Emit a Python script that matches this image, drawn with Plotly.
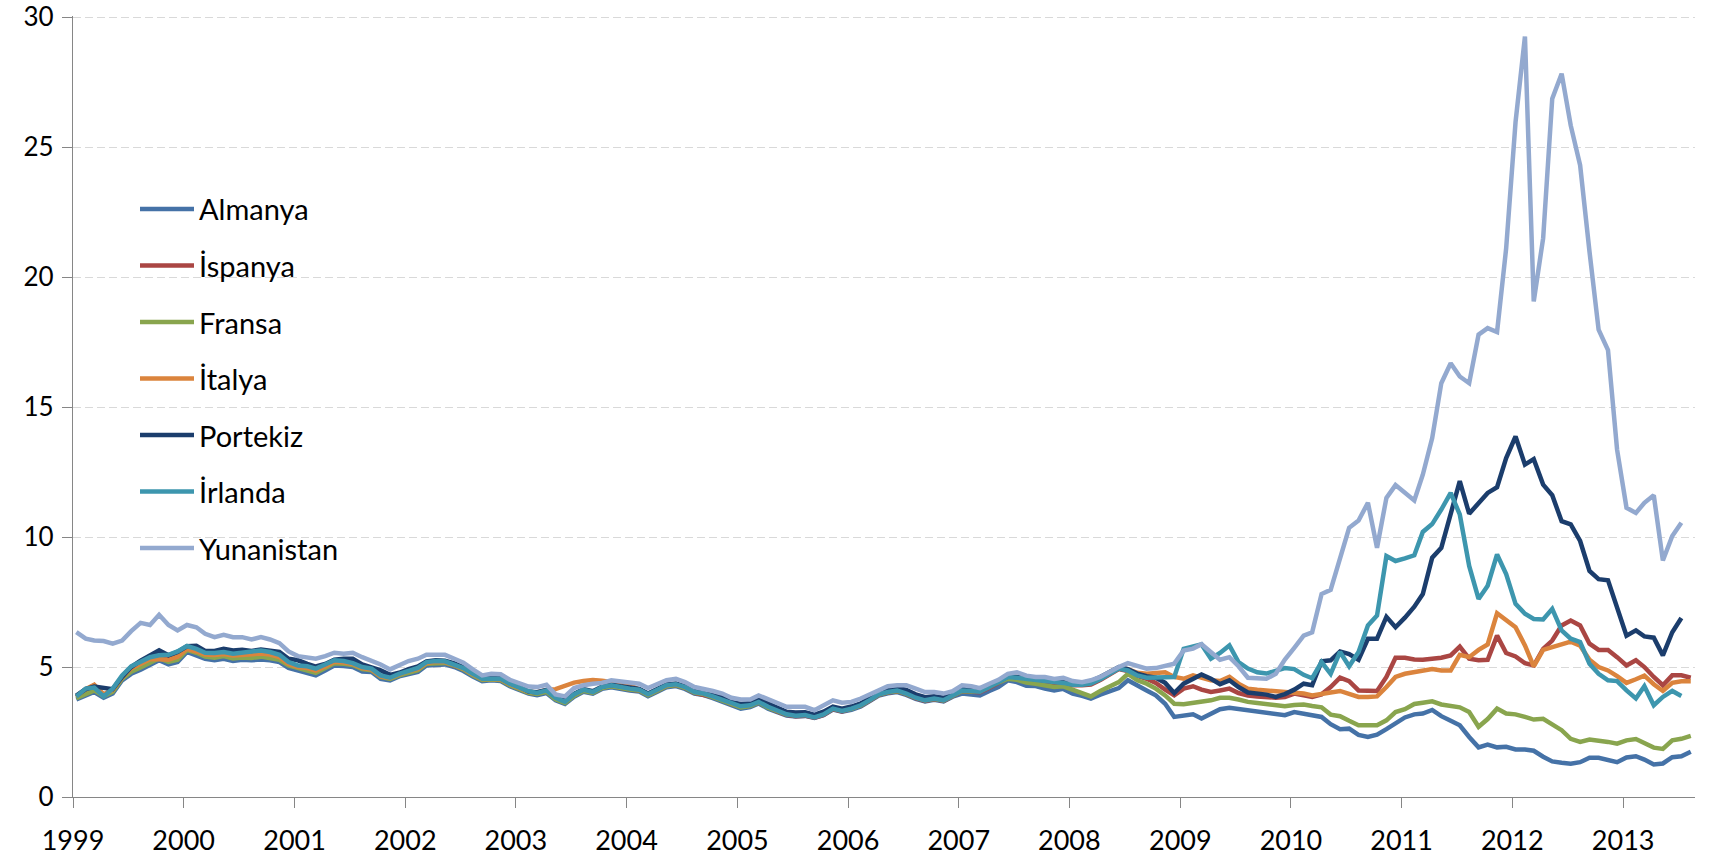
import pandas as pd
import plotly.graph_objects as go

# ---- categories / labels ----
years = list(range(1999, 2014))
tick_labels = [str(y) for y in years]
series_names = ["Almanya", "İspanya", "Fransa", "İtalya", "Portekiz", "İrlanda", "Yunanistan"]

# monthly observations, Jan 1999 onwards
months = pd.date_range("1999-01-01", periods=176, freq="MS") + pd.Timedelta(days=11)

# ---- values (10-year government bond yields, %) ----
almanya = [
    3.75, 3.91, 4.04, 3.82, 3.98, 4.49, 4.74, 4.90, 5.10, 5.26,
    5.10, 5.19, 5.58, 5.45, 5.32, 5.26, 5.32, 5.23, 5.28, 5.26,
    5.29, 5.26, 5.19, 4.97, 4.87, 4.81, 4.68, 4.87, 5.06, 5.04,
    5.00, 4.83, 4.81, 4.55, 4.49, 4.64, 4.74, 4.81, 5.06, 5.10,
    5.10, 5.00, 4.85, 4.64, 4.46, 4.49, 4.46, 4.26, 4.13, 3.98,
    3.92, 4.00, 3.72, 3.58, 3.86, 4.05, 3.98, 4.16, 4.22, 4.15,
    4.10, 4.06, 3.88, 4.05, 4.22, 4.27, 4.16, 3.98, 3.92, 3.80,
    3.67, 3.52, 3.40, 3.46, 3.60, 3.40, 3.25, 3.13, 3.10, 3.12,
    3.04, 3.15, 3.36, 3.28, 3.35, 3.48, 3.68, 3.90, 3.99, 4.04,
    3.93, 3.78, 3.68, 3.74, 3.68, 3.86,
    3.98, 3.95, 3.91, 4.08, 4.23, 4.49, 4.42, 4.28, 4.27, 4.17,
    4.10, 4.16, 3.98, 3.89, 3.79, 3.94, 4.08, 4.19, 4.49, 4.27,
    4.10, 3.91, 3.59, 3.08, 3.11, 3.18, 3.02, 3.18, 3.38, 3.43,
    3.38, 3.32,
    3.27, 3.24, 3.20, 3.15, 3.27, 3.20, 3.15, 3.08, 2.80, 2.61,
    2.63, 2.39, 2.31, 2.40, 2.61, 2.85, 3.06, 3.18, 3.21, 3.35,
    3.11, 2.93, 2.76, 2.31, 1.91, 2.02, 1.91, 1.93, 1.83, 1.83,
    1.78, 1.55, 1.37, 1.32, 1.28, 1.34, 1.51, 1.51, 1.42, 1.34,
    1.52, 1.57, 1.44, 1.25, 1.29, 1.53, 1.57, 1.74,
]

ispanya = [
    3.85, 4.12, 4.30, 3.92, 4.12, 4.62, 4.97, 5.15, 5.32, 5.42,
    5.38, 5.50, 5.72, 5.64, 5.50, 5.48, 5.52, 5.45, 5.48, 5.50,
    5.55, 5.50, 5.40, 5.14, 5.02, 4.98, 4.88, 5.05, 5.22, 5.18,
    5.12, 4.96, 4.90, 4.64, 4.56, 4.70, 4.83, 4.92, 5.15, 5.19,
    5.18, 5.06, 4.92, 4.70, 4.52, 4.52, 4.51, 4.32, 4.19, 4.02,
    3.97, 4.07, 3.80, 3.64, 3.93, 4.11, 4.02, 4.20, 4.27, 4.20,
    4.14, 4.10, 3.93, 4.10, 4.27, 4.31, 4.20, 4.01, 3.95, 3.85,
    3.73, 3.57, 3.47, 3.51, 3.64, 3.45, 3.29, 3.16, 3.11, 3.13,
    3.05, 3.16, 3.38, 3.29, 3.38, 3.51, 3.70, 3.93, 4.02, 4.07,
    3.96, 3.80, 3.70, 3.77, 3.70, 3.89, 4.08, 4.05, 4.03,
    4.20, 4.39, 4.59, 4.56, 4.51, 4.46, 4.43, 4.39, 4.36, 4.30,
    4.30, 4.33, 4.50, 4.70, 4.92, 4.85, 4.66,
    4.55, 4.39, 4.13, 3.91, 4.17, 4.26, 4.13, 4.04, 4.10, 4.17,
    4.00, 3.90,
    3.87, 3.85, 3.82, 3.85, 3.98, 3.91, 3.85, 3.95, 4.23, 4.59,
    4.46, 4.10, 4.10, 4.08, 4.62, 5.36, 5.36, 5.29, 5.28, 5.32,
    5.36, 5.45, 5.79, 5.32, 5.26, 5.28, 6.21, 5.54, 5.41, 5.15,
    5.06, 5.70, 6.02, 6.60, 6.79, 6.60, 5.90, 5.66, 5.66, 5.38,
    5.06, 5.26, 5.00, 4.62, 4.30, 4.68, 4.68, 4.59,
]

fransa = [
    3.80, 3.98, 4.10, 3.88, 4.05, 4.55, 4.82, 4.98, 5.18, 5.34,
    5.20, 5.28, 5.66, 5.55, 5.40, 5.36, 5.42, 5.33, 5.37, 5.35,
    5.40, 5.36, 5.28, 5.06, 4.96, 4.90, 4.78, 4.96, 5.15, 5.13,
    5.08, 4.92, 4.88, 4.62, 4.54, 4.68, 4.80, 4.88, 5.13, 5.16,
    5.16, 5.06, 4.91, 4.68, 4.50, 4.52, 4.50, 4.30, 4.17, 4.01,
    3.96, 4.05, 3.76, 3.62, 3.90, 4.09, 4.01, 4.19, 4.26, 4.19,
    4.14, 4.10, 3.92, 4.09, 4.26, 4.31, 4.20, 4.02, 3.96, 3.84,
    3.71, 3.56, 3.45, 3.50, 3.64, 3.44, 3.29, 3.17, 3.15, 3.17,
    3.09, 3.20, 3.40, 3.32, 3.39, 3.52, 3.72, 3.94, 4.03, 4.08,
    3.97, 3.82, 3.72, 3.78, 3.72, 3.90,
    4.08, 4.06, 4.10,
    4.26, 4.42, 4.55, 4.51, 4.40, 4.36, 4.31, 4.23, 4.26, 4.13,
    4.00, 3.87, 4.08, 4.26, 4.42, 4.74, 4.49, 4.36, 4.17, 3.91,
    3.59,
    3.57, 3.62, 3.67, 3.72, 3.82, 3.82, 3.75, 3.66,
    3.62, 3.59, 3.54, 3.49, 3.54, 3.56, 3.50, 3.45, 3.17, 3.11,
    2.93, 2.76, 2.76, 2.76, 2.95, 3.27, 3.38, 3.58, 3.63, 3.68,
    3.56, 3.50, 3.45, 3.27, 2.70, 3.00, 3.40, 3.21, 3.18, 3.08,
    2.98, 3.01, 2.78, 2.57, 2.24, 2.12, 2.21, 2.18, 2.12, 2.05,
    2.18, 2.23, 2.08, 1.90, 1.85, 2.18, 2.24, 2.35,
]

italya = [
    3.88, 4.15, 4.32, 3.95, 4.12, 4.60, 4.95, 5.12, 5.30, 5.30,
    5.28, 5.40, 5.70, 5.60, 5.48, 5.46, 5.50, 5.44, 5.46, 5.48,
    5.52, 5.48, 5.38, 5.12, 5.00, 4.96, 4.86, 5.02, 5.20, 5.17,
    5.12, 4.96, 4.90, 4.64, 4.58, 4.72, 4.85, 4.93, 5.16, 5.20,
    5.19, 5.08, 4.94, 4.72, 4.54, 4.54, 4.53, 4.34, 4.21, 4.05,
    4.02, 4.12, 4.15, 4.30, 4.40, 4.46, 4.50, 4.47, 4.44, 4.38,
    4.30, 4.14, 3.96, 4.13, 4.30, 4.34, 4.24, 4.06, 4.00, 3.90,
    3.78, 3.62, 3.52, 3.55, 3.68, 3.50, 3.33, 3.20, 3.16, 3.17,
    3.09, 3.20, 3.42, 3.34, 3.42, 3.55, 3.74, 3.98, 4.06, 4.11,
    4.00, 3.85, 3.75, 3.82, 3.76, 3.94, 4.11, 4.09, 4.08,
    4.24, 4.43, 4.64, 4.62, 4.57, 4.52, 4.49, 4.45, 4.42, 4.38,
    4.40, 4.45, 4.60, 4.78, 4.98, 4.92, 4.78,
    4.74, 4.77, 4.80, 4.62, 4.55, 4.68, 4.59, 4.49, 4.46, 4.62,
    4.36, 4.17,
    4.13, 4.10, 4.08, 4.06, 4.04, 3.98, 3.91, 3.95, 4.02, 4.08,
    3.98, 3.85, 3.85, 3.87, 4.23, 4.62, 4.74, 4.81, 4.87, 4.92,
    4.87, 4.87, 5.47, 5.38, 5.66, 5.87, 7.07, 6.79, 6.53, 5.83,
    5.03, 5.66, 5.77, 5.86, 5.98, 5.82, 5.28, 5.00, 4.87, 4.65,
    4.39, 4.53, 4.67, 4.34, 4.08, 4.39, 4.45, 4.45,
]

portekiz = [
    3.90, 4.15, 4.25, 4.19, 4.15, 4.62, 5.00, 5.25, 5.45, 5.64,
    5.45, 5.58, 5.80, 5.82, 5.62, 5.62, 5.70, 5.64, 5.67, 5.62,
    5.67, 5.62, 5.58, 5.32, 5.26, 5.12, 5.02, 5.12, 5.28, 5.32,
    5.32, 5.10, 5.00, 4.87, 4.70, 4.78, 4.92, 5.02, 5.22, 5.26,
    5.24, 5.14, 4.99, 4.78, 4.58, 4.57, 4.57, 4.38, 4.25, 4.06,
    4.03, 4.12, 3.85, 3.70, 3.97, 4.15, 4.07, 4.25, 4.32, 4.26,
    4.20, 4.16, 3.98, 4.16, 4.33, 4.37, 4.26, 4.08, 4.02, 3.92,
    3.82, 3.66, 3.58, 3.62, 3.76, 3.60, 3.42, 3.28, 3.25, 3.26,
    3.17, 3.28, 3.48, 3.40, 3.48, 3.60, 3.80, 4.02, 4.12, 4.20,
    4.12, 3.95, 3.84, 3.88, 3.82, 3.98, 4.16, 4.15, 4.10,
    4.25, 4.44, 4.64, 4.62, 4.57, 4.52, 4.49, 4.45, 4.42, 4.36,
    4.36, 4.45, 4.62, 4.82, 5.00, 4.92, 4.75, 4.65, 4.59, 4.39,
    4.00,
    4.36, 4.55, 4.71, 4.55, 4.34, 4.49, 4.23, 4.02, 3.98, 3.94,
    3.85, 3.96, 4.13, 4.36, 4.30,
    5.22, 5.26, 5.60, 5.50, 5.28, 6.09, 6.09, 6.93, 6.53, 6.90,
    7.32, 7.81,
    9.21, 9.59, 10.87, 12.15, 10.90, 11.32, 11.70, 11.92, 13.04, 13.87,
    12.79, 13.00, 12.02, 11.61, 10.61, 10.49, 9.85, 8.70, 8.38, 8.34,
    7.30, 6.21, 6.41, 6.18, 6.13, 5.45, 6.34, 6.89,
]

irlanda = [
    3.87, 4.17, 4.21, 3.87, 4.17, 4.68, 5.03, 5.22, 5.38, 5.45,
    5.47, 5.60, 5.81, 5.70, 5.55, 5.54, 5.58, 5.51, 5.54, 5.58,
    5.64, 5.58, 5.47, 5.19, 5.06, 5.03, 4.94, 5.10, 5.26, 5.23,
    5.15, 5.00, 4.94, 4.68, 4.59, 4.74, 4.87, 4.97, 5.19, 5.23,
    5.22, 5.10, 4.96, 4.74, 4.55, 4.55, 4.55, 4.36, 4.23, 4.07,
    4.00, 4.10, 3.82, 3.66, 3.95, 4.13, 4.04, 4.23, 4.30, 4.23,
    4.17, 4.13, 3.95, 4.13, 4.30, 4.34, 4.23, 4.04, 3.98, 3.87,
    3.75, 3.59, 3.49, 3.53, 3.66, 3.47, 3.31, 3.18, 3.13, 3.15,
    3.06, 3.18, 3.40, 3.31, 3.40, 3.53, 3.72, 3.95, 4.04, 4.10,
    3.98, 3.82, 3.72, 3.79, 3.72, 3.91, 4.10, 4.08, 4.05,
    4.23, 4.42, 4.62, 4.59, 4.54, 4.49, 4.46, 4.42, 4.39, 4.32,
    4.32, 4.36, 4.53, 4.72, 4.94, 4.87, 4.68, 4.59, 4.59, 4.62,
    4.62,
    5.70, 5.79, 5.87, 5.32, 5.54, 5.83, 5.19,
    4.94, 4.80, 4.75, 4.87, 4.96, 4.92, 4.70, 4.57,
    5.19, 4.74, 5.58, 5.03, 5.58, 6.60, 6.98,
    9.27, 9.08, 9.18, 9.30, 10.20, 10.50, 11.06, 11.70, 10.87, 8.89,
    7.62, 8.13, 9.33, 8.58, 7.43, 7.05, 6.85, 6.83, 7.24, 6.41,
    6.09, 5.96, 5.13, 4.74, 4.49, 4.46, 4.10, 3.79, 4.26, 3.53,
    3.85, 4.08, 3.89,
]

yunanistan = [
    6.34, 6.09, 6.02, 6.00, 5.90, 6.02, 6.38, 6.70, 6.62, 7.01,
    6.62, 6.41, 6.62, 6.53, 6.28, 6.15, 6.24, 6.15, 6.15, 6.06,
    6.15, 6.06, 5.92, 5.60, 5.42, 5.38, 5.32, 5.42, 5.55, 5.51,
    5.55, 5.38, 5.26, 5.10, 4.91, 5.09, 5.23, 5.32, 5.47, 5.47,
    5.47, 5.32, 5.17, 4.91, 4.68, 4.74, 4.72, 4.51, 4.40, 4.25,
    4.23, 4.32, 3.95, 3.87, 4.19, 4.30, 4.36, 4.39, 4.49, 4.45,
    4.40, 4.36, 4.19, 4.36, 4.49, 4.55, 4.42, 4.23, 4.17, 4.08,
    3.98, 3.82, 3.75, 3.75, 3.91, 3.75, 3.59, 3.47, 3.47, 3.47,
    3.34, 3.53, 3.72, 3.63, 3.66, 3.79, 3.94, 4.14, 4.26, 4.30,
    4.30, 4.17, 4.04, 4.04, 3.98, 4.07, 4.30, 4.26, 4.19,
    4.36, 4.51, 4.74, 4.80, 4.67, 4.62, 4.62, 4.54, 4.59, 4.46,
    4.42, 4.49, 4.62, 4.83, 5.00, 5.15, 5.03, 4.94, 4.96, 5.06,
    5.13,
    5.64, 5.71, 5.88, 5.58, 5.28, 5.38, 5.03, 4.59, 4.55, 4.55,
    4.74, 5.29, 5.74, 6.21, 6.34, 7.81, 7.97,
    9.14, 10.36, 10.64, 11.32, 9.59, 11.51, 12.00, 11.70, 11.41, 12.40,
    13.81, 15.92, 16.69, 16.18, 15.92,
    17.79, 18.04, 17.89, 21.11, 25.97, 29.26, 19.07, 21.50, 26.87, 27.83,
    25.84, 24.31, 20.98, 17.98,
    17.20, 13.36, 11.13, 10.93, 11.32, 11.61, 9.10, 10.04, 10.55,
]

series_values = [almanya, ispanya, fransa, italya, portekiz, irlanda, yunanistan]
series_colors = ["#4572A7", "#AA4643", "#89A54E", "#DB843D", "#1B3D6C", "#3D96AE", "#93A9CF"]

FONT = "Lato, 'Liberation Sans', Arial, sans-serif"

# plot-area geometry (pixels)
L, R, T, B = 73, 1695, 16, 797
W_FIG, H_FIG = 1709, 856
W_PLOT, H_PLOT = R - L, B - T
Y_MAX = 30.05

fig = go.Figure()
for name, vals, col in zip(series_names, series_values, series_colors):
    fig.add_trace(go.Scatter(
        x=months[:len(vals)], y=vals, name=name, mode="lines",
        line=dict(color=col, width=4.5, shape="linear"),
        showlegend=False, hoverinfo="x+y+name",
    ))

# manual legend (line sample + label) placed inside the plot area
leg_y_px = [209, 265.5, 322, 378.5, 435, 491.5, 548]
for name, col, py in zip(series_names, series_colors, leg_y_px):
    yp = (B - py) / H_PLOT
    fig.add_shape(type="line", xref="paper", yref="paper",
                  x0=(140 - L) / W_PLOT, x1=(194 - L) / W_PLOT, y0=yp, y1=yp,
                  line=dict(color=col, width=4.5))
    fig.add_annotation(xref="paper", yref="paper", x=(197 - L) / W_PLOT, y=yp,
                       text=name, showarrow=False, xanchor="left", yanchor="middle",
                       font=dict(family=FONT, size=29, color="#000000"))

fig.update_layout(
    width=W_FIG, height=H_FIG, autosize=False,
    margin=dict(l=L, r=W_FIG - R, t=T, b=H_FIG - B, pad=0),
    paper_bgcolor="white", plot_bgcolor="white",
    font=dict(family=FONT, size=27, color="#000000"),
    showlegend=False,
)
fig.update_xaxes(
    type="date", range=["1999-01-01", "2013-08-26"], automargin=False,
    tickvals=[f"{y}-01-01" for y in years], ticktext=tick_labels,
    ticks="outside", ticklen=10, tickwidth=1.3, tickcolor="#868686",
    showline=True, linecolor="#868686", linewidth=1.3,
    showgrid=False, zeroline=False, ticklabelstandoff=9,
    ticklabeloverflow="allow",
    tickfont=dict(family=FONT, size=27, color="#000000"),
)
fig.update_yaxes(
    range=[0, Y_MAX], automargin=False, tickvals=[0, 5, 10, 15, 20, 25, 30],
    ticktext=["0", "5", "10", "15", "20", "25", "30"],
    ticks="outside", ticklen=10, tickwidth=1.3, tickcolor="#868686",
    showline=True, linecolor="#868686", linewidth=1.3,
    showgrid=True, gridcolor="#D9D9D9", gridwidth=1.3, griddash="8px,4px",
    zeroline=False, ticklabelstandoff=3, ticklabeloverflow="allow",
    tickfont=dict(family=FONT, size=26, color="#000000"),
)

fig.write_html("out.html", config={"displayModeBar": False},
               post_script="document.body.style.margin='0';")
